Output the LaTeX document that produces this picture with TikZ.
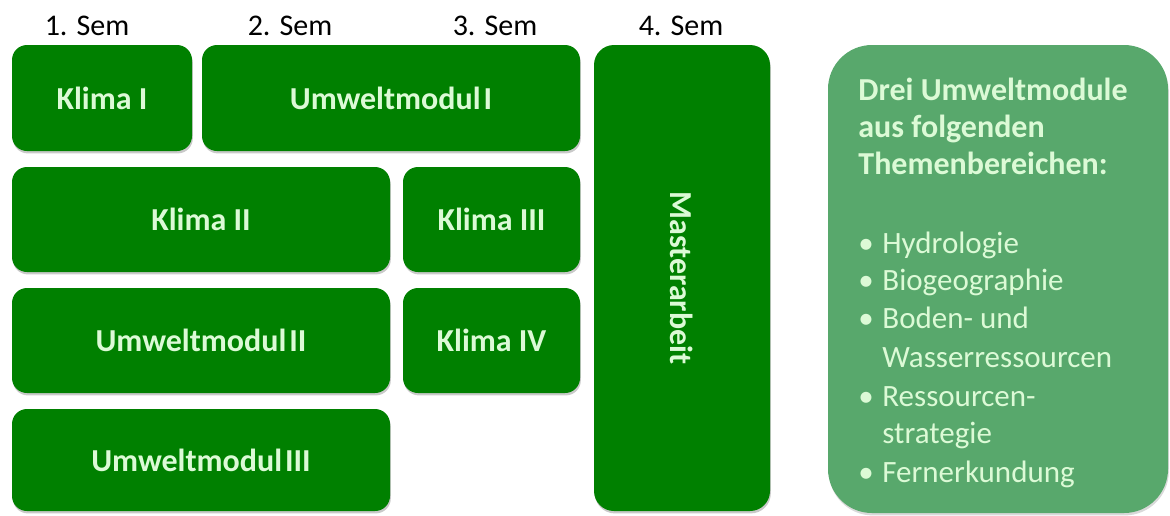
\documentclass[tikz,border=0pt]{standalone}
\usepackage{fontspec}
\setmainfont{Carlito}
\usetikzlibrary{shadows}

\definecolor{modgreen}{RGB}{0,128,0}
\definecolor{infogreen}{RGB}{88,168,108}
\definecolor{modtext}{RGB}{220,250,214}

\tikzset{
  sem/.style={font=\fontsize{15}{18}\selectfont, inner sep=0pt},
  mod/.style={fill=modgreen, rounded corners=7.5pt, text=modtext,
    font=\fontsize{16}{18}\selectfont\bfseries, inner sep=0pt,
    drop shadow={shadow xshift=0.4pt, shadow yshift=-1.2pt, opacity=0.3, fill=black!70}},
  info/.style={fill=infogreen, rounded corners=22pt, inner sep=0pt,
    drop shadow={shadow xshift=0.4pt, shadow yshift=-1.2pt, opacity=0.25, fill=black!60}},
  infoline/.style={text=modtext, font=\fontsize{15.5}{18}\selectfont, inner sep=0pt, anchor=base west}
}

\begin{document}
\begin{tikzpicture}[x=0.5pt,y=-0.5pt]
  \useasboundingbox (0,0) rectangle (1170,515);

  % semesters
  \node[sem] (s1) at (87,25.5) {1. Sem};
  \node[sem] (s2) at (290,25.5) {2. Sem};
  \node[sem] (s3) at (495,25.5) {3. Sem};
  \node[sem] (s4) at (681,25.5) {4. Sem};

  % modules
  \node[mod, minimum width=90pt, minimum height=53pt] (k1) at (102,98) {Klima I};
  \node[mod, minimum width=189pt, minimum height=53pt] (u1) at (391,98) {Umweltmodul\kern1.5pt I};
  \node[mod, minimum width=189pt, minimum height=52.5pt] (k2) at (201,219.5) {Klima II};
  \node[mod, minimum width=88.5pt, minimum height=52.5pt] (k3) at (491.5,219.5) {Klima III};
  \node[mod, minimum width=189pt, minimum height=52.5pt] (u2) at (201,340.5) {Umweltmodul\kern1.5pt II};
  \node[mod, minimum width=88.5pt, minimum height=52.5pt] (k4) at (491.5,340.5) {Klima IV};
  \node[mod, minimum width=189pt, minimum height=51pt] (u3) at (201,460) {Umweltmodul\kern1.5pt III};
  \node[mod, minimum width=88pt, minimum height=233pt, rounded corners=10pt] (ma) at (682,278) {};
  \node[text=modtext, font=\fontsize{16}{18}\selectfont\bfseries, rotate=-90] (matext) at (ma.center) {Masterarbeit};

  % themes
  \node[info, minimum width=170pt, minimum height=234pt] (themen) at (998,279) {};
  \foreach \y/\t [count=\i] in {100/Drei Umweltmodule, 137/aus folgenden, 174/Themenbereichen:}
    \node[infoline, font=\fontsize{16}{18}\selectfont\bfseries] (head\i) at (858,\y) {\t};
  \foreach \y [count=\i] in {253,290,328,406,482}
    \node[infoline] (dot\i) at (858,\y) {\textbullet};
  \foreach \y/\t [count=\i] in {253/Hydrologie, 290/Biogeographie, 328/Boden- und, 367/Wasserressourcen, 406/Ressourcen-, 443/strategie, 482/Fernerkundung}
    \node[infoline] (item\i) at (882,\y) {\t};
\end{tikzpicture}
\end{document}
